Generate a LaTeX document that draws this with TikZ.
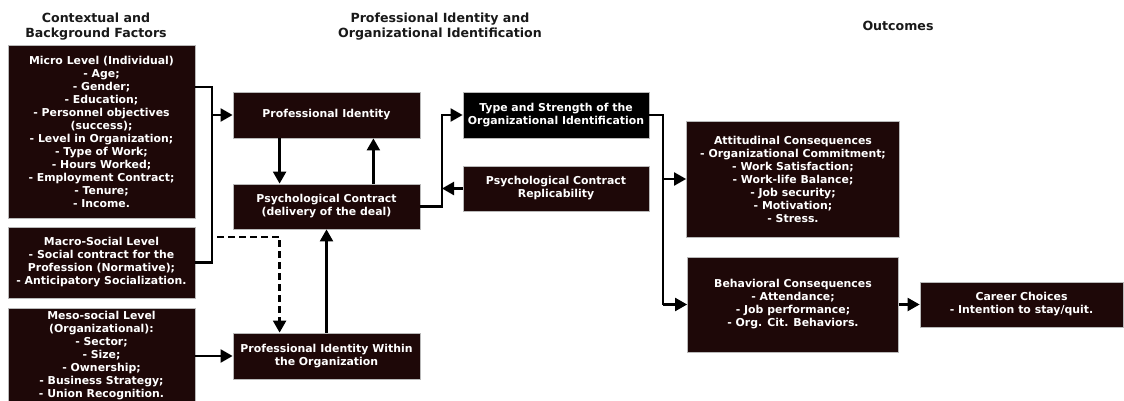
\documentclass[tikz,border=0pt]{standalone}
\usepackage{fontspec}
\setmainfont{DejaVu Sans}
\usetikzlibrary{arrows.meta}
\definecolor{boxfill}{RGB}{30,8,8}
\definecolor{headtext}{RGB}{25,25,25}

\begin{document}
\begin{tikzpicture}[x=1pt, y=-1pt, font=\bfseries\fontsize{10.9}{13}\selectfont,
    box/.style = {draw=gray!55, line width=0.8pt, fill=boxfill, text=white, align=center, inner sep=2pt},
    head/.style = {text=headtext, align=center, font=\bfseries\fontsize{12.6}{15}\selectfont},
    line/.style = {line width=2.3pt},
    arr/.style = {line width=2.3pt, -{Triangle[length=12pt, width=13pt]}}]
    \useasboundingbox (0,0) rectangle (1124,401);
                % column headings
                \node[head] (h0) at (96,27) {Contextual and\\Background Factors};
                \node[head] (h1) at (440,27) {Professional Identity and\\Organizational Identification};
                \node[head] (h2) at (898,26) {Outcomes};
                % contextual factors
                \node[box, minimum width=187pt, minimum height=173pt] (micro) at (101.5,131.5) {Micro Level (Individual)\\- Age;\\- Gender;\\- Education;\\- Personnel objectives\\(success);\\- Level in Organization;\\- Type of Work;\\- Hours Worked;\\- Employment Contract;\\- Tenure;\\- Income.};
                \node[box, minimum width=187pt, minimum height=71pt] (macro) at (101.5,262.5) {Macro-Social Level\\- Social contract for the\\Profession (Normative);\\- Anticipatory Socialization.};
                \node[box, minimum width=187pt, minimum height=96pt] (meso) at (101.5,356) {Meso-social Level\\(Organizational):\\- Sector;\\- Size;\\- Ownership;\\- Business Strategy;\\- Union Recognition.};
                % identity column
                \node[box, minimum width=187pt, minimum height=46pt] (pi) at (326.5,115) {Professional Identity};
                \node[box, minimum width=187pt, minimum height=45pt] (pc) at (326.5,206.5) {Psychological Contract\\(delivery of the deal)};
                \node[box, minimum width=187pt, minimum height=46pt] (piwo) at (326.5,356) {Professional Identity Within\\the Organization};
                \node[box, fill=black, minimum width=186pt, minimum height=46pt] (ts) at (556,115) {Type and Strength of the\\Organizational Identification};
                \node[box, minimum width=186pt, minimum height=45pt] (pcr) at (556,188.5) {Psychological Contract\\Replicability};
                % outcomes
                \node[box, minimum width=213pt, minimum height=116pt] (ac) at (793,179) {Attitudinal Consequences\\- Organizational Commitment;\\- Work Satisfaction;\\- Work-life Balance;\\- Job security;\\- Motivation;\\- Stress.};
                \node[box, minimum width=211pt, minimum height=95pt] (bc) at (793,304.5) {Behavioral Consequences\\- Attendance;\\- Job performance;\\- Org. Cit. Behaviors.};
                \node[box, minimum width=203pt, minimum height=45pt] (cc) at (1021.5,304.5) {Career Choices\\- Intention to stay/quit.};
                % junction points
                \coordinate (j1) at (212,87);
                \coordinate (j2) at (442,206.5);
                \coordinate (j3) at (663,115);
                \coordinate (d0) at (217,237);
                % micro and macro join into one bus
                \draw[line] (micro.east |- j1) -- (j1) -- (j1 |- macro) -- (macro.east);
                \draw[arr] (j1 |- pi) -- (pi);
                \draw[arr, dash pattern=on 7pt off 4pt] (d0) -| ([xshift=47pt]piwo.north west);
                \draw[arr] (meso.east |- piwo) -- (piwo);
                \draw[arr] ([xshift=47pt]pi.south west) -- ([xshift=47pt]pc.north west);
                \draw[arr] ([xshift=-47pt]pc.north east) -- ([xshift=-47pt]pi.south east);
                \draw[arr] (piwo) -- (pc);
                \draw[arr] (pc.east) -- (j2) |- (ts);
                \draw[arr] (pcr) -- (pcr -| j2);
                \draw[line] (ts.east) -- (j3) -- (j3 |- bc);
                \draw[arr] (j3 |- ac) -- (ac);
                \draw[arr] (j3 |- bc) -- (bc);
                \draw[arr] (bc) -- (cc);
            \end{tikzpicture}
\end{document}
